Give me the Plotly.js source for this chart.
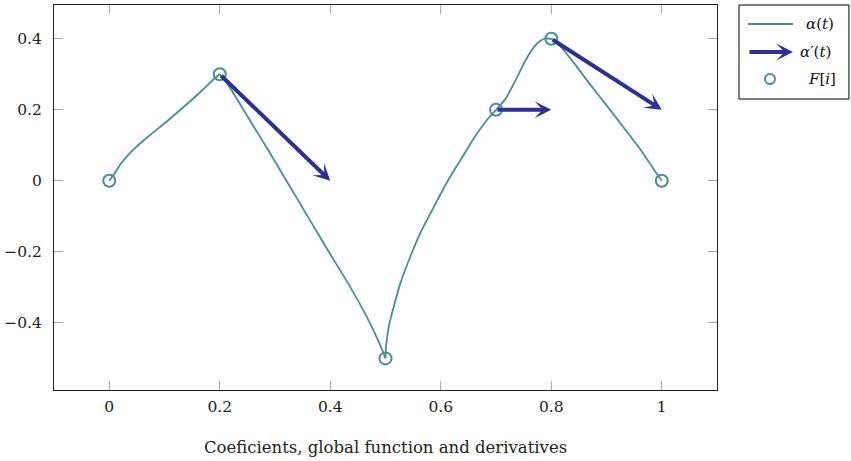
<!DOCTYPE html>
<html>
<head>
<meta charset="utf-8">
<script src="https://cdn.plot.ly/plotly-3.0.1.min.js"></script>
<style>html,body{margin:0;padding:0;background:#fff;}#chart{width:851px;height:461px;}</style>
</head>
<body>
<div id="chart"></div>
<script>
// Global function alpha(t)
const curveX = [0, 0.011, 0.020, 0.032, 0.050, 0.074, 0.104, 0.134, 0.165, 0.189, 0.2,
  0.216, 0.252, 0.289, 0.325, 0.361, 0.397, 0.434, 0.464, 0.482, 0.494, 0.5,
  0.501, 0.506, 0.515, 0.527, 0.545, 0.563, 0.588, 0.612, 0.636, 0.660, 0.684, 0.7,
  0.717, 0.736, 0.754, 0.772, 0.787, 0.8,
  0.817, 0.841, 0.871, 0.902, 0.932, 0.962, 0.986, 1];
const curveY = [0, 0.024, 0.046, 0.069, 0.097, 0.129, 0.167, 0.207, 0.250, 0.286, 0.3,
  0.268, 0.177, 0.083, -0.011, -0.105, -0.199, -0.293, -0.377, -0.434, -0.476, -0.5,
  -0.467, -0.410, -0.354, -0.288, -0.213, -0.147, -0.072, -0.002, 0.059, 0.120, 0.172, 0.2,
  0.230, 0.285, 0.341, 0.383, 0.400, 0.4,
  0.378, 0.332, 0.270, 0.209, 0.148, 0.087, 0.031, 0];
// Coefficients F[i]
const coefX = [0, 0.2, 0.5, 0.7, 0.8, 1];
const coefY = [0, 0.3, -0.5, 0.2, 0.4, 0];
// Derivative arrows alpha'(t): tails and tips
const derivTailX = [0.2, 0.7, 0.8];
const derivTailY = [0.3, 0.2, 0.4];
const derivTipX = [0.4, 0.8, 1.0];
const derivTipY = [0.0, 0.2, 0.2];
// Ticks and labels
const xTicks = [0, 0.2, 0.4, 0.6, 0.8, 1];
const yTicks = [-0.4, -0.2, 0, 0.2, 0.4];
const legendLabels = ['<i>α</i>(<i>t</i>)', '<i>α</i>′(<i>t</i>)', '<i>F</i>[<i>i</i>]'];
const xTitle = 'Coeficients, global function and derivatives';

const teal = '#4a8e93';
const navy = '#2e3192';
const FONT = 'DejaVu Serif, serif';

// split the curve at the coefficient knots so corners stay sharp
const traces = [];
let start = 0;
for (let i = 0; i < curveX.length; i++) {
  const isKnot = i > 0 && coefX.indexOf(curveX[i]) >= 0;
  if (isKnot) {
    traces.push({x: curveX.slice(start, i + 1), y: curveY.slice(start, i + 1), mode: 'lines',
      line: {color: teal, width: 1.8, shape: 'spline', smoothing: 0.6}, hoverinfo: 'skip'});
    start = i;
  }
}
traces.push({x: coefX, y: coefY, mode: 'markers',
  marker: {symbol: 'circle-open', size: 12, color: teal, line: {width: 2, color: teal}}});

const annotations = [];
for (let i = 0; i < derivTipX.length; i++) {
  annotations.push({
    x: derivTipX[i], y: derivTipY[i], xref: 'x', yref: 'y',
    ax: derivTailX[i], ay: derivTailY[i], axref: 'x', ayref: 'y',
    text: '', showarrow: true, arrowhead: 3, arrowwidth: 4, arrowsize: 0.7,
    arrowcolor: navy, standoff: 0, startstandoff: 0
  });
}

// Manual legend (paper coordinates)
const legY = [0.9506, 0.8779, 0.8078];
const shapes = [
  {type: 'rect', xref: 'paper', yref: 'paper', x0: 1.0332, x1: 1.199, y0: 0.7558, y1: 1.0,
   line: {color: '#000', width: 1}, fillcolor: '#fff', layer: 'below'},
  {type: 'line', xref: 'paper', yref: 'paper', x0: 1.0468, x1: 1.1146, y0: legY[0], y1: legY[0],
   line: {color: teal, width: 1.8}},
  {type: 'circle', xref: 'paper', yref: 'paper', xsizemode: 'pixel', ysizemode: 'pixel',
   xanchor: 1.0799, yanchor: legY[2], x0: -5, x1: 5, y0: -5, y1: 5,
   line: {color: teal, width: 2}}
];
annotations.push({
  x: 1.1146, y: legY[1], xref: 'paper', yref: 'paper', ax: -45, ay: 0,
  text: '', showarrow: true, arrowhead: 3, arrowwidth: 4, arrowsize: 0.7,
  arrowcolor: navy, standoff: 0
});
const legTextX = [1.131, 1.122, 1.134];
for (let i = 0; i < legendLabels.length; i++) {
  annotations.push({
    x: legTextX[i], y: legY[i], xref: 'paper', yref: 'paper', xanchor: 'left', yanchor: 'middle',
    text: legendLabels[i], showarrow: false, font: {family: FONT, size: 15, color: '#111'}
  });
}

const layout = {
  width: 851, height: 461,
  margin: {l: 54, r: 134, t: 5, b: 71},
  paper_bgcolor: '#fff', plot_bgcolor: '#fff',
  showlegend: false,
  font: {family: FONT, size: 15.5, color: '#222'},
  xaxis: {
    range: [-0.1, 1.1], tickvals: xTicks, showgrid: false, zeroline: false,
    showline: true, linecolor: '#222', linewidth: 1, mirror: 'allticks',
    ticks: 'inside', ticklen: 9, tickcolor: '#aaa', tickwidth: 1,
    ticklabelstandoff: 2,
    title: {text: xTitle, font: {family: FONT, size: 16.5, color: '#222'}, standoff: 26}
  },
  yaxis: {
    range: [-0.589, 0.495], tickvals: yTicks, showgrid: false, zeroline: false,
    showline: true, linecolor: '#222', linewidth: 1, mirror: 'allticks',
    ticks: 'inside', ticklen: 9, tickcolor: '#aaa', tickwidth: 1,
    ticklabelstandoff: 8
  },
  shapes: shapes,
  annotations: annotations
};

Plotly.newPlot('chart', traces, layout, {displayModeBar: false, staticPlot: true});
</script>
</body>
</html>
